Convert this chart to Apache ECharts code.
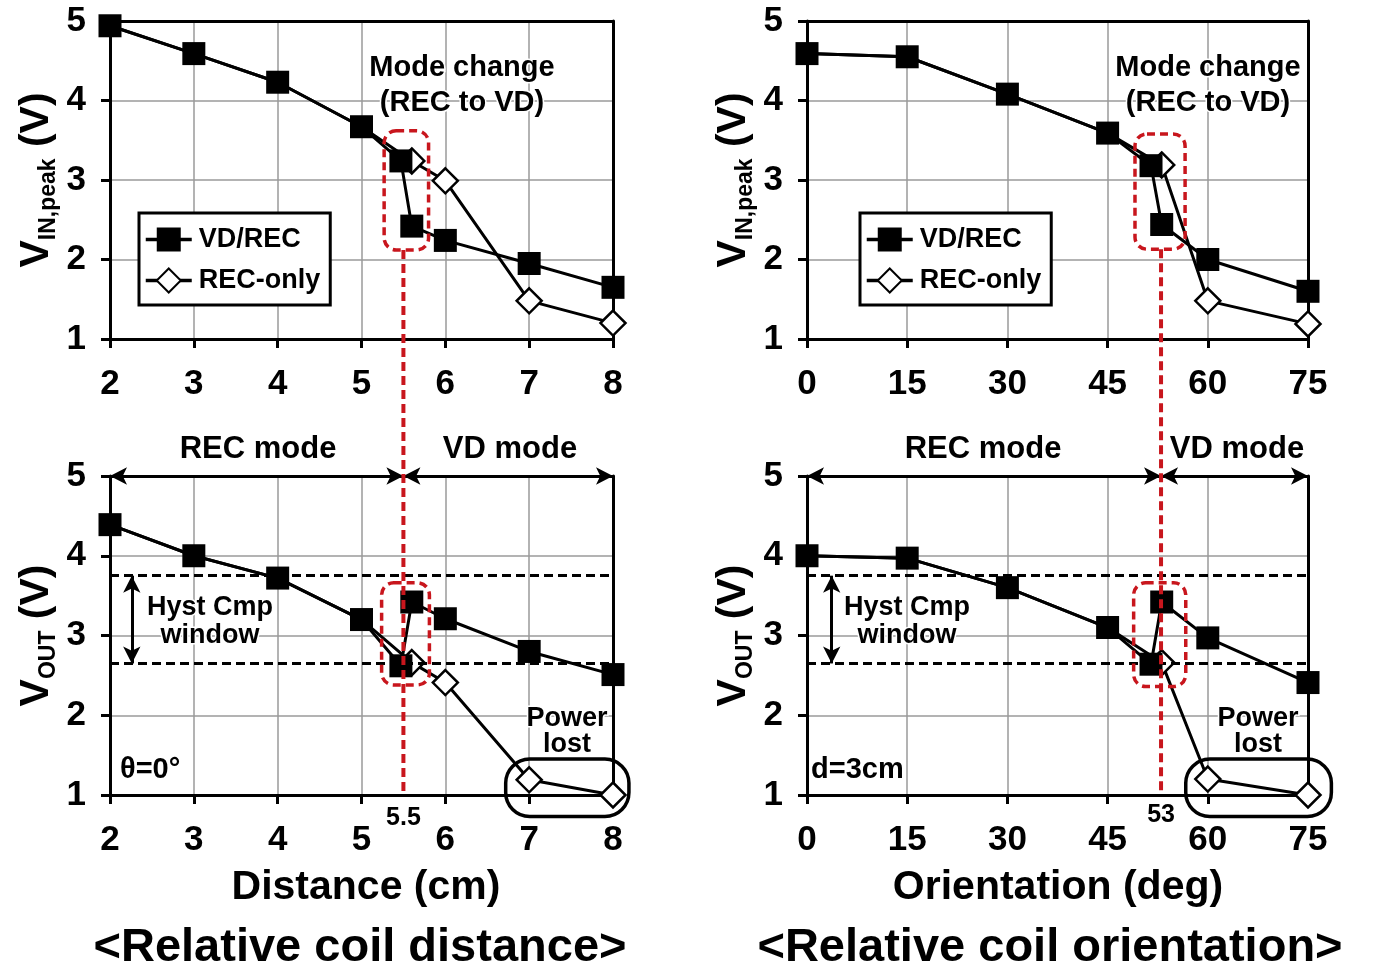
<!DOCTYPE html>
<html>
<head>
<meta charset="utf-8">
<script src="https://cdn.jsdelivr.net/npm/echarts@6.0.0/dist/echarts.min.js"></script>
<style>
  html, body { margin: 0; padding: 0; background: #fff; }
  #main { width: 1373px; height: 977px; }
</style>
</head>
<body>
<div id="main"></div>
<script>
// distance sweep (theta = 0 deg)
var distVdX     = [2, 3, 4, 5, 5.47, 5.6, 6, 7, 8];
var distVdVin   = [4.94, 4.59, 4.23, 3.67, 3.24, 2.42, 2.24, 1.95, 1.65];
var distVdVout  = [4.39, 4.00, 3.72, 3.20, 2.62, 3.42, 3.21, 2.80, 2.51];
var distRecX    = [2, 3, 4, 5, 5.6, 6, 7, 8];
var distRecVin  = [4.94, 4.59, 4.23, 3.67, 3.24, 2.99, 1.48, 1.20];
var distRecVout = [4.39, 4.00, 3.72, 3.20, 2.66, 2.41, 1.19, 1.00];

// orientation sweep (d = 3cm)
var angVdX     = [0, 15, 30, 45, 51.5, 53.1, 60, 75];
var angVdVin   = [4.59, 4.55, 4.08, 3.59, 3.18, 2.44, 2.00, 1.60];
var angVdVout  = [4.00, 3.97, 3.60, 3.10, 2.64, 3.42, 2.97, 2.41];
var angRecX    = [0, 15, 30, 45, 53.1, 60, 75];
var angRecVin  = [4.59, 4.55, 4.08, 3.59, 3.19, 1.48, 1.19];
var angRecVout = [4.00, 3.97, 3.60, 3.10, 2.66, 1.20, 1.00];

var hystLevels = [3.75, 2.65];   // hysteresis comparator window
var modeDist = 5.5;               // REC -> VD switch point (cm)
var modeAng = 53;                 // REC -> VD switch point (deg)

// annotation boxes [x1, yTop, x2, yBottom] in data units
var distVinBox  = [5.27, 3.62, 5.80, 2.12];
var distVoutBox = [5.24, 3.66, 5.81, 2.38];
var angVinBox   = [49.1, 3.58, 56.6, 2.13];
var angVoutBox  = [48.9, 3.66, 56.7, 2.36];
var distLostBox = [6.72, 1.45, 8.19, 0.73];
var angLostBox  = [56.7, 1.45, 78.5, 0.73];

var F = 'Liberation Sans, Arial, Helvetica, sans-serif';
var RED = '#c8161d';

function pts(xs, ys) {
  return xs.map(function (x, i) { return [x, ys[i]]; });
}

// REC-only points that sit under a VD/REC point get no marker
function recPts(xs, ys, vdXs, vdYs) {
  return xs.map(function (x, i) {
    var shared = vdXs.some(function (vx, j) { return vx === x && vdYs[j] === ys[i]; });
    return shared ? { value: [x, ys[i]], symbol: 'none' } : [x, ys[i]];
  });
}

function vdSeries(g, xs, ys, extra) {
  var s = {
    name: 'VD/REC', type: 'line', xAxisIndex: g, yAxisIndex: g,
    data: pts(xs, ys), symbol: 'rect', symbolSize: 23, z: 4,
    lineStyle: { color: '#000', width: 3 },
    itemStyle: { color: '#000' }
  };
  if (extra) s.markLine = extra;
  return s;
}

function recSeries(g, xs, ys, vdXs, vdYs, extra) {
  var s = {
    name: 'REC-only', type: 'line', xAxisIndex: g, yAxisIndex: g,
    data: recPts(xs, ys, vdXs, vdYs), symbol: 'diamond', symbolSize: 25, z: 3,
    lineStyle: { color: '#000', width: 3 },
    itemStyle: { color: '#fff', borderColor: '#000', borderWidth: 2.5 }
  };
  if (extra) s.markLine = extra;
  return s;
}

function boxSeries(g, boxes, color, dash, r) {
  return {
    type: 'custom', xAxisIndex: g, yAxisIndex: g, clip: false, silent: true, z: 6,
    data: boxes, encode: { x: [0, 2], y: [1, 3] },
    renderItem: function (params, api) {
      var p1 = api.coord([api.value(0), api.value(1)]);
      var p2 = api.coord([api.value(2), api.value(3)]);
      return {
        type: 'rect',
        shape: { x: p1[0], y: p1[1], width: p2[0] - p1[0], height: p2[1] - p1[1], r: r },
        style: { fill: 'none', stroke: color, lineWidth: 3.5, lineDash: dash }
      };
    }
  };
}

function hystLines() {
  return {
    silent: true, symbol: 'none', label: { show: false },
    lineStyle: { color: '#000', width: 3, type: [9, 5] },
    data: [{ yAxis: hystLevels[0] }, { yAxis: hystLevels[1] }]
  };
}

function arrowLines(xmin, xmode, xmax, xh) {
  return {
    silent: true, symbol: ['arrow', 'arrow'], symbolSize: [13, 17], label: { show: false },
    lineStyle: { color: '#000', width: 3, type: 'solid' },
    data: [
      [{ coord: [xmin, 5] }, { coord: [xmode, 5] }],
      [{ coord: [xmode, 5] }, { coord: [xmax, 5] }],
      [{ coord: [xh, hystLevels[0]] }, { coord: [xh, hystLevels[1]] }]
    ]
  };
}

var labelFont = { fontSize: 35, fontWeight: 'bold', color: '#000', fontFamily: F,
                  showMinLabel: true, showMaxLabel: true };

function xAx(g, min, max, step) {
  return {
    type: 'value', gridIndex: g, min: min, max: max, interval: step, position: 'bottom',
    axisLine: { lineStyle: { color: '#000', width: 3 } },
    axisTick: { length: 9, lineStyle: { color: '#000', width: 3 } },
    axisLabel: Object.assign({ margin: 28 }, labelFont),
    splitLine: { show: true, lineStyle: { color: '#9a9a9a', width: 1.5 } }
  };
}

// plain frame line on the far side of a panel
function frameAx(g, min, max, pos) {
  return {
    type: 'value', gridIndex: g, min: min, max: max, position: pos,
    axisLine: { show: true, onZero: false, lineStyle: { color: '#000', width: 3 } },
    axisTick: { show: false }, axisLabel: { show: false }, splitLine: { show: false }
  };
}

function yAx(g, nameRich) {
  return {
    type: 'value', gridIndex: g, min: 1, max: 5, interval: 1, position: 'left',
    name: nameRich, nameLocation: 'middle', nameRotate: 90, nameGap: 50,
    nameTextStyle: {
      rich: {
        v: { fontSize: 41, fontWeight: 'bold', color: '#000', fontFamily: F, lineHeight: 46 },
        s: { fontSize: 23, fontWeight: 'bold', color: '#000', fontFamily: F, lineHeight: 24, verticalAlign: 'bottom' }
      }
    },
    axisLine: { lineStyle: { color: '#000', width: 3 } },
    axisTick: { length: 9, lineStyle: { color: '#000', width: 3 } },
    axisLabel: Object.assign({ margin: 24 }, labelFont),
    splitLine: { show: true, lineStyle: { color: '#9a9a9a', width: 1.5 } }
  };
}

function grid(left, top, width, height) {
  return { left: left, top: top, width: width, height: height, show: false,
           outerBoundsMode: 'none' };
}

function legendAt(left) {
  return {
    left: left, top: 213, orient: 'vertical', data: ['VD/REC', 'REC-only'],
    borderColor: '#000', borderWidth: 3, padding: [13, 10, 11, 5],
    itemGap: 14, itemWidth: 46, itemHeight: 30, backgroundColor: '#fff',
    lineStyle: { width: 3.5 },
    textStyle: { fontSize: 27, fontWeight: 'bold', color: '#000', fontFamily: F, padding: [0, 0, 0, 2] }
  };
}

function txt(x, y, str, size, align, weight) {
  return {
    type: 'text', x: x, y: y, z: 50, silent: true,
    style: { text: str, fontSize: size, fontWeight: weight || 'bold', fontFamily: F, fill: '#000',
             align: align || 'center', verticalAlign: 'middle',
             stroke: '#fff', lineWidth: 3 }
  };
}

var chart = echarts.init(document.getElementById('main'));

chart.setOption({
  backgroundColor: '#fff',
  animation: false,
  grid: [grid(110, 21, 503, 318), grid(807, 21, 501, 318),
         grid(110, 476, 503, 319), grid(807, 476, 501, 319)],
  legend: [legendAt(139), legendAt(860)],
  xAxis: [xAx(0, 2, 8, 1), xAx(1, 0, 75, 15), xAx(2, 2, 8, 1), xAx(3, 0, 75, 15),
          frameAx(0, 2, 8, 'top'), frameAx(1, 0, 75, 'top'), frameAx(2, 2, 8, 'top'), frameAx(3, 0, 75, 'top')],
  yAxis: [yAx(0, '{v|V}{s|IN,peak}{v| (V)}'), yAx(1, '{v|V}{s|IN,peak}{v| (V)}'),
          yAx(2, '{v|V}{s|OUT}{v| (V)}'), yAx(3, '{v|V}{s|OUT}{v| (V)}'),
          frameAx(0, 1, 5, 'right'), frameAx(1, 1, 5, 'right'), frameAx(2, 1, 5, 'right'), frameAx(3, 1, 5, 'right')],
  series: [
    recSeries(0, distRecX, distRecVin, distVdX, distVdVin),
    vdSeries(0, distVdX, distVdVin),
    recSeries(1, angRecX, angRecVin, angVdX, angVdVin),
    vdSeries(1, angVdX, angVdVin),
    recSeries(2, distRecX, distRecVout, distVdX, distVdVout, arrowLines(2, modeDist, 8, 2.26)),
    vdSeries(2, distVdX, distVdVout, hystLines()),
    recSeries(3, angRecX, angRecVout, angVdX, angVdVout, arrowLines(0, modeAng, 75, 3.7)),
    vdSeries(3, angVdX, angVdVout, hystLines()),
    boxSeries(0, [distVinBox], RED, [8, 5], 12),
    boxSeries(1, [angVinBox], RED, [8, 5], 12),
    boxSeries(2, [distVoutBox], RED, [8, 5], 12),
    boxSeries(3, [angVoutBox], RED, [8, 5], 12),
    boxSeries(2, [distLostBox], '#000', null, 24),
    boxSeries(3, [angLostBox], '#000', null, 24)
  ]
});

// red mode-change guide spans the upper and lower panels
var lt = chart.convertToPixel({ gridIndex: 0 }, [modeDist, distVinBox[3]]);
var lb = chart.convertToPixel({ gridIndex: 2 }, [modeDist, 1]);
var rt = chart.convertToPixel({ gridIndex: 1 }, [modeAng, angVinBox[3]]);
var rb = chart.convertToPixel({ gridIndex: 3 }, [modeAng, 1]);

function redLine(a, b) {
  return {
    type: 'line', z: 40, silent: true,
    shape: { x1: a[0], y1: a[1], x2: b[0], y2: b[1] },
    style: { stroke: RED, lineWidth: 4, lineDash: [9, 5] }
  };
}

chart.setOption({
  graphic: [
    redLine(lt, lb), redLine(rt, rb),
    txt(462, 68, 'Mode change', 29), txt(462, 103, '(REC to VD)', 29),
    txt(1208, 68, 'Mode change', 29), txt(1208, 103, '(REC to VD)', 29),
    txt(258, 449, 'REC mode', 31), txt(510, 449, 'VD mode', 31),
    txt(983, 449, 'REC mode', 31), txt(1237, 449, 'VD mode', 31),
    txt(210, 608, 'Hyst Cmp', 27), txt(210, 636, 'window', 27),
    txt(907, 608, 'Hyst Cmp', 27), txt(907, 636, 'window', 27),
    txt(567, 719, 'Power', 27), txt(567, 745, 'lost', 27),
    txt(1258, 719, 'Power', 27), txt(1258, 745, 'lost', 27),
    txt(120, 770, 'θ=0°', 29, 'left'), txt(811, 770, 'd=3cm', 29, 'left'),
    txt(lb[0], 818, '5.5', 25), txt(rb[0], 815, '53', 25),
    txt(366, 888, 'Distance (cm)', 41), txt(1058, 888, 'Orientation (deg)', 41),
    txt(360, 948, '<Relative coil distance>', 47), txt(1050, 948, '<Relative coil orientation>', 47)
  ]
});
</script>
</body>
</html>
